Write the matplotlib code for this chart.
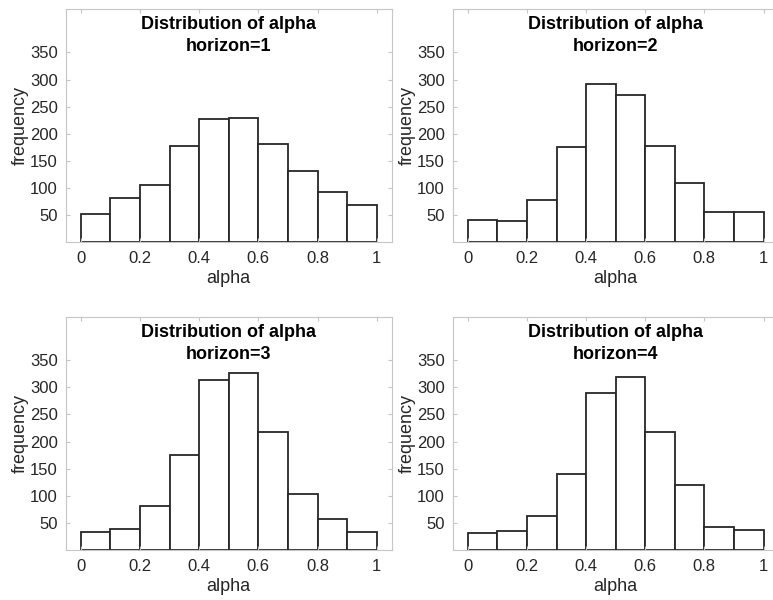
import numpy as np
import matplotlib
matplotlib.use('Agg')
import matplotlib.pyplot as plt

plt.rcParams['font.family'] = ['Liberation Sans', 'DejaVu Sans']

# histogram counts, bins of width 0.1 from 0 to 1
bin_edges = [0.0, 0.1, 0.2, 0.3, 0.4, 0.5, 0.6, 0.7, 0.8, 0.9, 1.0]
counts_h1 = [53, 81, 105, 178, 228, 230, 182, 132, 93, 69]
counts_h2 = [41, 40, 78, 175, 291, 272, 178, 109, 56, 56]
counts_h3 = [33, 39, 82, 175, 313, 326, 217, 103, 57, 34]
counts_h4 = [32, 36, 63, 141, 289, 319, 218, 120, 43, 38]
horizons = [1, 2, 3, 4]
xticks = [0, 0.2, 0.4, 0.6, 0.8, 1]
xtick_labels = ['0', '0.2', '0.4', '0.6', '0.8', '1']
yticks = [50, 100, 150, 200, 250, 300, 350]

AX_GRAY = '#c6c6c6'
TXT = '#262626'

fig = plt.figure(figsize=(7.73, 6.0), dpi=100)
W, H = 773, 600


def px_axes(left, top, right, bottom):
    return fig.add_axes([left / W, 1 - bottom / H, (right - left) / W, (bottom - top) / H])


boxes = [
    (66, 9, 391.5, 242.3),
    (453, 9, 778.3, 242.3),
    (66, 316.7, 391.5, 550.3),
    (453, 316.7, 778.3, 550.3),
]
all_counts = [counts_h1, counts_h2, counts_h3, counts_h4]

for box, counts, h in zip(boxes, all_counts, horizons):
    ax = px_axes(*box)
    ax.bar(bin_edges[:-1], counts, width=0.1, align='edge',
           facecolor='white', edgecolor=TXT, linewidth=1.3)
    ax.set_xlim(-0.05, 1.05)
    ax.set_ylim(0, 430)
    ax.set_xticks(xticks)
    ax.set_xticklabels(xtick_labels)
    ax.set_yticks(yticks)
    for s in ax.spines.values():
        s.set_color(AX_GRAY)
        s.set_linewidth(0.8)
    ax.tick_params(direction='in', length=3, width=0.8, color=AX_GRAY,
                   labelcolor=TXT, labelsize=12, top=True, right=True, pad=6)
    ax.set_xlabel('alpha', fontsize=13, color=TXT, labelpad=3)
    ax.set_ylabel('frequency', fontsize=13, color=TXT, labelpad=0.5)
    ax.text(0.5, 0.968, 'Distribution of alpha\nhorizon=%d' % h,
            transform=ax.transAxes, ha='center', va='top',
            fontsize=13, fontweight='bold', color='black', linespacing=1.35)

fig.savefig('out.png', dpi=100)
